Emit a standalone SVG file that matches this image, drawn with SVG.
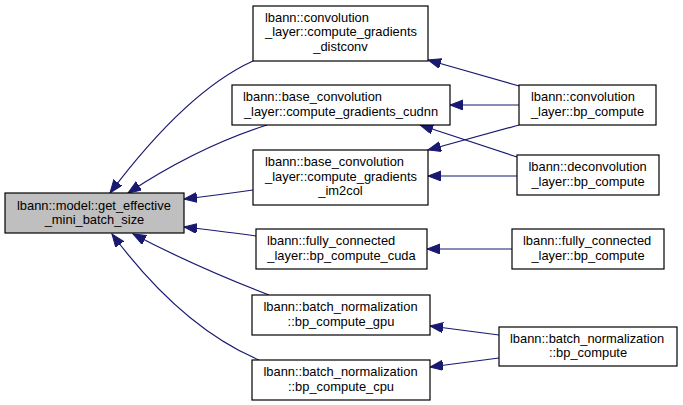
<svg xmlns="http://www.w3.org/2000/svg" width="683" height="405" viewBox="0 0 683 405">
<style>
text{font-family:"Liberation Sans",Arial,sans-serif;font-size:12.9px;fill:#000}
.n{fill:#fff;stroke:#000;stroke-width:1.2}
.m{fill:#bfbfbf;stroke:#000;stroke-width:1.2}
.e{fill:none;stroke:#191970;stroke-width:1.2}
.c{text-anchor:middle}
</style>
<defs>
<marker id="ah" markerWidth="14" markerHeight="11" refX="13" refY="5" orient="auto" markerUnits="userSpaceOnUse">
<path d="M0,0 L13,5 L0,10 z" fill="#191970" stroke="#191970" stroke-width="1"/>
</marker>
</defs>
<g id="edges">
<path class="e" marker-end="url(#ah)" d="M253,61 C200,85 150,140 110,193"/>
<path class="e" marker-end="url(#ah)" d="M267,125 C220,140 175,162 128,193"/>
<path class="e" marker-end="url(#ah)" d="M253,190 C232,193 210,196 184,199"/>
<path class="e" marker-end="url(#ah)" d="M256,236 C235,233 210,230 184,227"/>
<path class="e" marker-end="url(#ah)" d="M269,295 C230,280 175,256 133,234"/>
<path class="e" marker-end="url(#ah)" d="M259,360 C200,335 150,285 112,234"/>
<path class="e" marker-end="url(#ah)" d="M519,86 L428,60"/>
<path class="e" marker-end="url(#ah)" d="M519,105 L450,105"/>
<path class="e" marker-end="url(#ah)" d="M519,125 L428,150"/>
<path class="e" marker-end="url(#ah)" d="M517,157 L420,125"/>
<path class="e" marker-end="url(#ah)" d="M517,176 L428,176"/>
<path class="e" marker-end="url(#ah)" d="M512,249 L427,249"/>
<path class="e" marker-end="url(#ah)" d="M499,335 L430,326"/>
<path class="e" marker-end="url(#ah)" d="M499,358 L430,367"/>
</g>
<g id="main">
<rect class="m" x="5" y="193" width="179" height="40"/>
<text x="17" y="209.5">lbann::model::get_effective</text>
<text class="c" x="94.5" y="224">_mini_batch_size</text>
</g>
<g id="distconv">
<rect class="n" x="253" y="6" width="175" height="55"/>
<text x="265" y="21.5">lbann::convolution</text>
<text x="265" y="36">_layer::compute_gradients</text>
<text class="c" x="340.5" y="50.5">_distconv</text>
</g>
<g id="cudnn">
<rect class="n" x="232" y="85" width="218" height="40"/>
<text x="243" y="101">lbann::base_convolution</text>
<text class="c" x="341" y="115.5">_layer::compute_gradients_cudnn</text>
</g>
<g id="im2col">
<rect class="n" x="253" y="150" width="175" height="55"/>
<text x="265" y="165.5">lbann::base_convolution</text>
<text x="265" y="180.5">_layer::compute_gradients</text>
<text class="c" x="340.5" y="195">_im2col</text>
</g>
<g id="fccuda">
<rect class="n" x="256" y="229" width="171" height="40"/>
<text x="267" y="245">lbann::fully_connected</text>
<text class="c" x="341.5" y="259.5">_layer::bp_compute_cuda</text>
</g>
<g id="bngpu">
<rect class="n" x="252" y="295" width="178" height="40"/>
<text x="263.5" y="311">lbann::batch_normalization</text>
<text class="c" x="341" y="325.5">::bp_compute_gpu</text>
</g>
<g id="bncpu">
<rect class="n" x="252" y="360" width="178" height="40"/>
<text x="263.5" y="376">lbann::batch_normalization</text>
<text class="c" x="341" y="390.5">::bp_compute_cpu</text>
</g>
<g id="convbp">
<rect class="n" x="519" y="85" width="137" height="40"/>
<text x="531" y="101">lbann::convolution</text>
<text class="c" x="587.5" y="115.5">_layer::bp_compute</text>
</g>
<g id="deconvbp">
<rect class="n" x="517" y="155" width="142" height="40"/>
<text x="528.5" y="171">lbann::deconvolution</text>
<text class="c" x="588" y="185.5">_layer::bp_compute</text>
</g>
<g id="fcbp">
<rect class="n" x="512" y="229" width="152" height="40"/>
<text x="523" y="245">lbann::fully_connected</text>
<text class="c" x="588" y="259.5">_layer::bp_compute</text>
</g>
<g id="bnbp">
<rect class="n" x="499" y="327" width="178" height="39"/>
<text x="510" y="342.5">lbann::batch_normalization</text>
<text class="c" x="588" y="357">::bp_compute</text>
</g>
</svg>
